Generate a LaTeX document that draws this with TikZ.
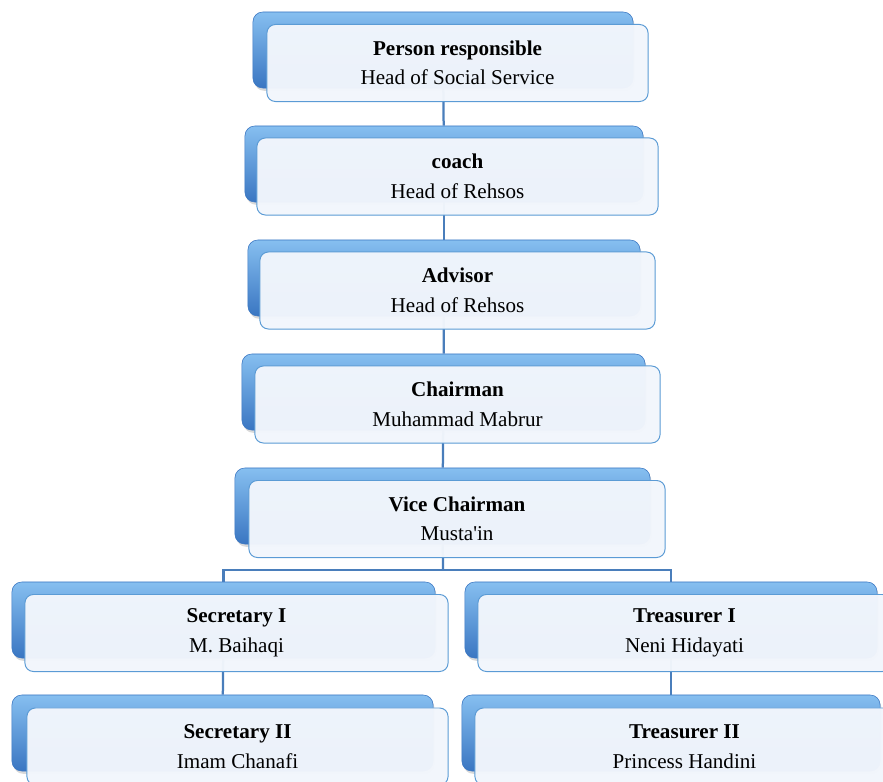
\documentclass[tikz,border=0pt]{standalone}
\usepackage{fontspec}
\setmainfont{Liberation Serif}
\usetikzlibrary{backgrounds,shadows}

\definecolor{backtop}{HTML}{86BFF0}
\definecolor{backmid}{HTML}{5596DE}
\definecolor{backbot}{HTML}{3A76C2}
\definecolor{frontfill}{HTML}{F2F6FC}
\definecolor{frontline}{HTML}{5B9BD5}
\definecolor{linkline}{HTML}{4A7EBB}

\tikzset{
  backbox/.style={rectangle, rounded corners=7pt, minimum height=1.9cm,
    top color=backtop, middle color=backmid, bottom color=backbot, draw=backbot, line width=0.4pt,
    drop shadow={opacity=0.3, shadow xshift=1pt, shadow yshift=-2pt}},
  frontbox/.style={rectangle, rounded corners=6pt, minimum height=1.925cm,
    draw=frontline, line width=0.7pt, fill=frontfill, fill opacity=0.97, text opacity=1,
    align=center, font=\fontsize{15}{21}\selectfont},
  link/.style={draw=linkline, line width=1.6pt}
}

\begin{document}
\begin{tikzpicture}[x=0.025cm, y=-0.025cm]

\useasboundingbox (0,0) rectangle (883,782);

\node [backbox, minimum width=9.5cm] (PersonBack) at (443,50) {};
\node [backbox, minimum width=9.95cm] (CoachBack) at (444,164) {};
\node [backbox, minimum width=9.8cm] (AdvisorBack) at (444,278) {};
\node [backbox, minimum width=10.075cm] (ChairmanBack) at (443.5,392) {};
\node [backbox, minimum width=10.375cm] (ViceBack) at (442.5,506) {};
\node [backbox, minimum width=10.575cm] (SecOneBack) at (223.5,620) {};
\node [backbox, minimum width=10.525cm] (SecTwoBack) at (222.5,733) {};
\node [backbox, minimum width=10.3cm] (TreasOneBack) at (671,620) {};
\node [backbox, minimum width=10.45cm] (TreasTwoBack) at (671,733) {};

\coordinate (fork) at (443,570);

\begin{pgfonlayer}{background}
\draw [link] (PersonBack) -- (CoachBack);
\draw [link] (CoachBack) -- (AdvisorBack);
\draw [link] (AdvisorBack) -- (ChairmanBack);
\draw [link] (ChairmanBack) -- (ViceBack);
\draw [link] (ViceBack) -- (fork);
\draw [link] (fork) -| (SecOneBack);
\draw [link] (fork) -| (TreasOneBack);
\draw [link] (SecOneBack) -- (SecTwoBack);
\draw [link] (TreasOneBack) -- (TreasTwoBack);
\end{pgfonlayer}

\node [frontbox, minimum width=9.525cm] (Person) at (457.5,63) {\textbf{Person responsible}\\Head of Social Service};
\node [frontbox, minimum width=10.025cm] (Coach) at (457.5,176.5) {\textbf{coach}\\Head of Rehsos};
\node [frontbox, minimum width=9.875cm] (Advisor) at (457.5,290.5) {\textbf{Advisor}\\Head of Rehsos};
\node [frontbox, minimum width=10.125cm] (Chairman) at (457.5,404.5) {\textbf{Chairman}\\Muhammad Mabrur};
\node [frontbox, minimum width=10.4cm] (Vice) at (457,519) {\textbf{Vice Chairman}\\Musta\textquotesingle in};
\node [frontbox, minimum width=10.575cm] (SecOne) at (236.5,633) {\textbf{Secretary I}\\M. Baihaqi};
\node [frontbox, minimum width=10.525cm] (SecTwo) at (237.5,746.5) {\textbf{Secretary II}\\Imam Chanafi};
\node [frontbox, minimum width=10.325cm] (TreasOne) at (684.5,633) {\textbf{Treasurer I}\\Neni Hidayati};
\node [frontbox, minimum width=10.475cm] (TreasTwo) at (684.5,746.5) {\textbf{Treasurer II}\\Princess Handini};

\end{tikzpicture}
\end{document}
